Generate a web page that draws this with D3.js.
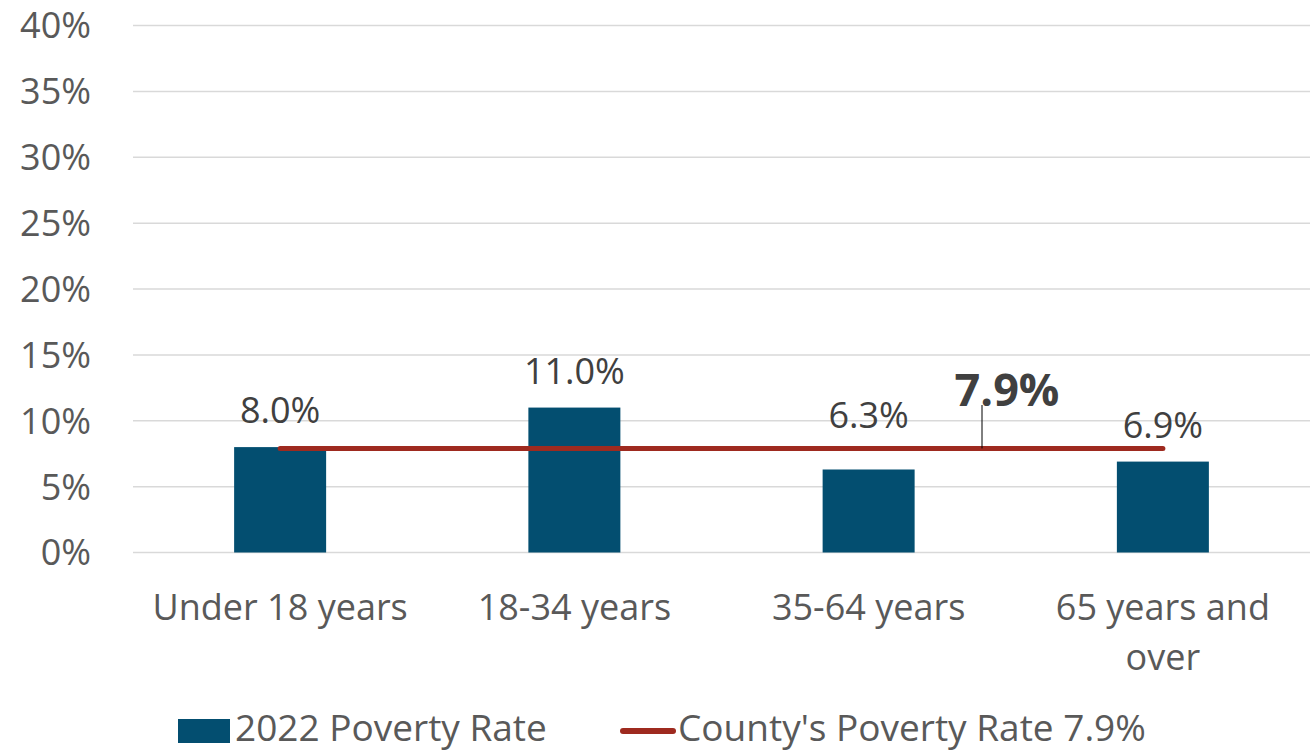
<!DOCTYPE html>
<html>
<head>
<meta charset="utf-8">
<script src="https://cdn.jsdelivr.net/npm/d3@7"></script>
<style>
  body { margin: 0; background: #fff; }
  svg { display: block; font-family: "Open Sans", sans-serif; }
</style>
</head>
<body>
<svg id="chart"></svg>
<script>
// chart data
const categories = ["Under 18 years", "18-34 years", "35-64 years", "65 years and over"];
const povertyRate = [8.0, 11.0, 6.3, 6.9];
const countyRate = 7.9;
const yTicks = [0, 5, 10, 15, 20, 25, 30, 35, 40];
const seriesNames = ["2022 Poverty Rate", "County's Poverty Rate 7.9%"];

const width = 1313;
const height = 753;

const svg = d3.select("#chart")
  .attr("width", width)
  .attr("height", height);

// scales
const x = d3.scaleBand()
  .domain(categories)
  .range([133, 1310])
  .paddingInner(0)
  .paddingOuter(0);

const y = d3.scaleLinear()
  .domain([0, 40])
  .range([552.5, 25.5]);

const barWidth = 92;

// gridlines
svg.append("g")
  .selectAll("line")
  .data(yTicks)
  .enter()
  .append("line")
  .attr("x1", 133)
  .attr("x2", 1310)
  .attr("y1", d => y(d))
  .attr("y2", d => y(d))
  .attr("stroke", "#d9d9d9")
  .attr("stroke-width", 1.5);

// y axis labels
svg.append("g")
  .selectAll("text")
  .data(yTicks)
  .enter()
  .append("text")
  .attr("x", 91)
  .attr("y", d => y(d))
  .attr("dy", "0.36em")
  .attr("text-anchor", "end")
  .attr("font-size", 36)
  .attr("fill", "#595959")
  .text(d => d + "%");

// bars
svg.append("g")
  .selectAll("rect")
  .data(povertyRate)
  .enter()
  .append("rect")
  .attr("x", (d, i) => x(categories[i]) + x.bandwidth() / 2 - barWidth / 2)
  .attr("y", d => y(d))
  .attr("width", barWidth)
  .attr("height", d => y(0) - y(d))
  .attr("fill", "#034e70");

// bar value labels (35-64 label was nudged up above the county line)
const labelLift = { "35-64 years": 17 };
svg.append("g")
  .selectAll("text")
  .data(povertyRate)
  .enter()
  .append("text")
  .attr("x", (d, i) => x(categories[i]) + x.bandwidth() / 2)
  .attr("y", (d, i) => y(d) - 24 - (labelLift[categories[i]] || 0))
  .attr("text-anchor", "middle")
  .attr("font-size", 36)
  .attr("fill", "#404040")
  .text(d => d.toFixed(1) + "%");

// county line
const cx0 = x(categories[0]) + x.bandwidth() / 2;
const cx1 = x(categories[categories.length - 1]) + x.bandwidth() / 2;
svg.append("line")
  .attr("x1", cx0)
  .attr("x2", cx1)
  .attr("y1", y(countyRate))
  .attr("y2", y(countyRate))
  .attr("stroke", "#9e2a1f")
  .attr("stroke-width", 5)
  .attr("stroke-linecap", "round");

// callout for county line
const calloutX = 982;
svg.append("line")
  .attr("x1", calloutX)
  .attr("x2", calloutX)
  .attr("y1", y(countyRate))
  .attr("y2", 405)
  .attr("stroke", "#000")
  .attr("stroke-width", 1);

svg.append("text")
  .attr("x", 1007)
  .attr("y", 406)
  .attr("text-anchor", "middle")
  .attr("font-size", 45)
  .attr("font-weight", "bold")
  .attr("fill", "#404040")
  .text(countyRate.toFixed(1) + "%");

// x axis labels, wrapped like the original
const xLabels = svg.append("g")
  .selectAll("text")
  .data(categories)
  .enter()
  .append("text")
  .attr("x", d => x(d) + x.bandwidth() / 2)
  .attr("y", 620)
  .attr("text-anchor", "middle")
  .attr("font-size", 36)
  .attr("fill", "#595959");

xLabels.each(function(d) {
  const lines = d === "65 years and over" ? ["65 years and", "over"] : [d];
  const t = d3.select(this);
  lines.forEach((ln, i) => {
    t.append("tspan")
      .attr("x", x(d) + x.bandwidth() / 2)
      .attr("dy", i === 0 ? 0 : 50)
      .text(ln);
  });
});

// legend
const legend = svg.append("g");
legend.append("rect")
  .attr("x", 178)
  .attr("y", 719)
  .attr("width", 52)
  .attr("height", 24)
  .attr("fill", "#034e70");
legend.append("text")
  .attr("x", 235)
  .attr("y", 741)
  .attr("font-size", 37)
  .attr("fill", "#595959")
  .text(seriesNames[0]);

legend.append("line")
  .attr("x1", 623)
  .attr("x2", 673)
  .attr("y1", 731)
  .attr("y2", 731)
  .attr("stroke", "#9e2a1f")
  .attr("stroke-width", 6)
  .attr("stroke-linecap", "round");
legend.append("text")
  .attr("x", 678)
  .attr("y", 741)
  .attr("font-size", 37)
  .attr("fill", "#595959")
  .text(seriesNames[1]);
</script>
</body>
</html>
